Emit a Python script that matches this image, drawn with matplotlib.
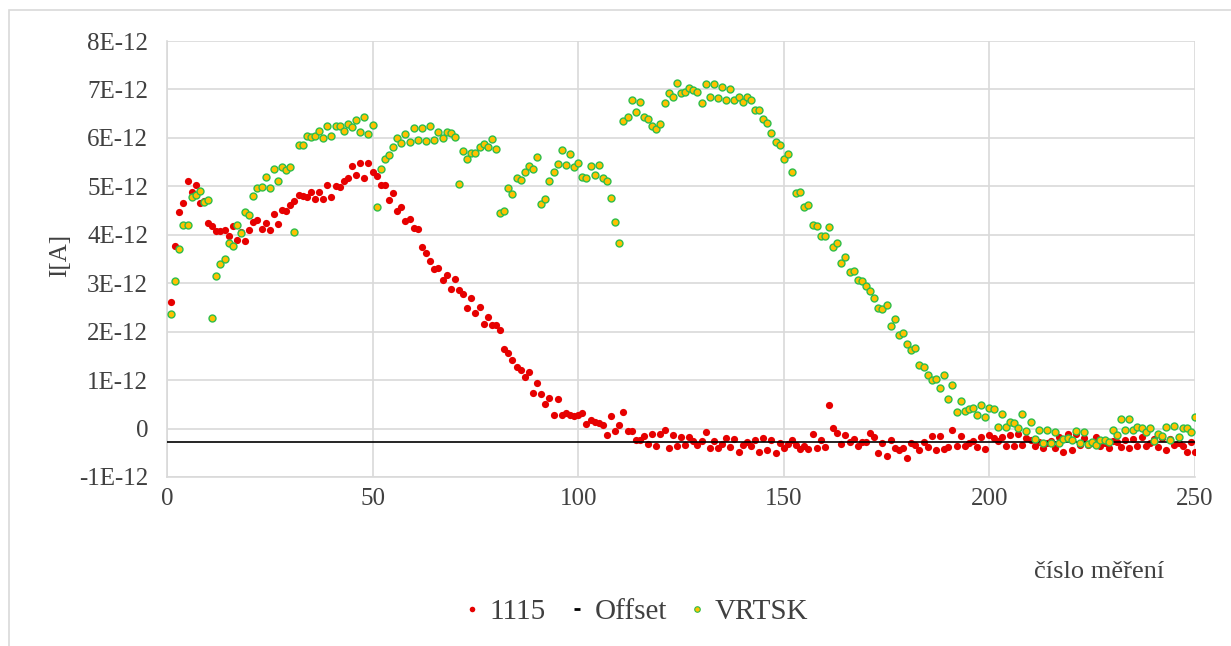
import numpy as np
import matplotlib.pyplot as plt
from matplotlib.lines import Line2D
from matplotlib.patches import Rectangle

plt.rcParams['font.family'] = ['Liberation Serif', 'DejaVu Serif']

# measured current, in units of 1E-12 A, measurement number 1..250
i_1115 = [
    2.62, 3.76, 4.48, 4.65, 5.12, 4.88, 5.02, 4.66, 4.69, 4.24,
    4.19, 4.08, 4.08, 4.10, 3.97, 4.19, 3.90, 4.05, 3.88, 4.09,
    4.26, 4.30, 4.12, 4.24, 4.10, 4.42, 4.23, 4.52, 4.50, 4.61,
    4.70, 4.83, 4.81, 4.77, 4.88, 4.73, 4.88, 4.73, 5.02, 4.77,
    5.00, 4.98, 5.11, 5.18, 5.43, 5.24, 5.48, 5.18, 5.48, 5.29,
    5.21, 5.02, 5.02, 4.71, 4.86, 4.50, 4.57, 4.28, 4.32, 4.13,
    4.12, 3.74, 3.63, 3.45, 3.30, 3.31, 3.07, 3.17, 2.88, 3.08,
    2.86, 2.77, 2.49, 2.70, 2.39, 2.51, 2.16, 2.30, 2.14, 2.14,
    2.03, 1.65, 1.56, 1.42, 1.28, 1.20, 1.07, 1.17, 0.73, 0.94,
    0.72, 0.50, 0.63, 0.28, 0.61, 0.28, 0.32, 0.28, 0.25, 0.28,
    0.33, 0.09, 0.17, 0.13, 0.12, 0.08, -0.14, 0.25, -0.05, 0.08,
    0.35, -0.05, -0.05, -0.24, -0.23, -0.15, -0.32, -0.12, -0.35, -0.11,
    -0.03, -0.40, -0.14, -0.37, -0.17, -0.33, -0.18, -0.26, -0.33, -0.26,
    -0.08, -0.40, -0.25, -0.40, -0.31, -0.19, -0.39, -0.22, -0.49, -0.33,
    -0.27, -0.36, -0.23, -0.48, -0.19, -0.45, -0.24, -0.50, -0.30, -0.41,
    -0.31, -0.24, -0.33, -0.43, -0.36, -0.43, -0.11, -0.40, -0.23, -0.39,
    0.48, 0.01, -0.09, -0.32, -0.13, -0.28, -0.21, -0.35, -0.28, -0.27,
    -0.09, -0.17, -0.50, -0.30, -0.56, -0.23, -0.41, -0.45, -0.40, -0.60,
    -0.30, -0.34, -0.45, -0.28, -0.39, -0.16, -0.44, -0.16, -0.42, -0.38,
    -0.03, -0.35, -0.16, -0.37, -0.29, -0.25, -0.39, -0.17, -0.42, -0.14,
    -0.19, -0.25, -0.17, -0.37, -0.13, -0.37, -0.12, -0.33, -0.20, -0.23,
    -0.37, -0.27, -0.41, -0.30, -0.25, -0.40, -0.17, -0.48, -0.12, -0.45,
    -0.12, -0.33, -0.19, -0.34, -0.30, -0.18, -0.37, -0.30, -0.40, -0.25,
    -0.28, -0.39, -0.23, -0.41, -0.21, -0.37, -0.18, -0.37, -0.30, -0.21,
    -0.39, -0.19, -0.45, -0.22, -0.34, -0.30, -0.36, -0.48, -0.27, -0.49,
]

i_vrtsk = [
    2.36, 3.04, 3.70, 4.21, 4.21, 4.79, 4.83, 4.90, 4.68, 4.72,
    2.29, 3.15, 3.40, 3.49, 3.84, 3.77, 4.21, 4.04, 4.48, 4.41,
    4.80, 4.97, 4.99, 5.19, 4.97, 5.35, 5.11, 5.39, 5.34, 5.39,
    4.06, 5.85, 5.86, 6.03, 6.01, 6.04, 6.14, 5.99, 6.25, 6.03,
    6.25, 6.24, 6.14, 6.29, 6.23, 6.36, 6.12, 6.43, 6.07, 6.26,
    4.57, 5.35, 5.57, 5.65, 5.82, 6.00, 5.90, 6.09, 5.91, 6.20,
    5.95, 6.20, 5.93, 6.25, 5.96, 6.13, 5.99, 6.12, 6.10, 6.01,
    5.05, 5.73, 5.57, 5.68, 5.68, 5.81, 5.87, 5.81, 5.98, 5.77,
    4.44, 4.50, 4.97, 4.84, 5.17, 5.13, 5.30, 5.41, 5.36, 5.61,
    4.64, 4.73, 5.10, 5.30, 5.47, 5.74, 5.45, 5.67, 5.39, 5.49,
    5.19, 5.17, 5.41, 5.24, 5.45, 5.18, 5.10, 4.75, 4.26, 3.84,
    6.34, 6.43, 6.78, 6.54, 6.75, 6.44, 6.39, 6.24, 6.18, 6.29,
    6.71, 6.92, 6.84, 7.13, 6.92, 6.95, 7.02, 6.99, 6.95, 6.73,
    7.11, 6.85, 7.11, 6.83, 7.05, 6.78, 7.00, 6.78, 6.84, 6.74,
    6.85, 6.79, 6.57, 6.58, 6.38, 6.31, 6.11, 5.92, 5.86, 5.57,
    5.66, 5.30, 4.87, 4.88, 4.58, 4.61, 4.21, 4.18, 3.97, 3.97,
    4.17, 3.75, 3.84, 3.42, 3.55, 3.24, 3.26, 3.07, 3.05, 2.94,
    2.83, 2.70, 2.48, 2.46, 2.56, 2.11, 2.26, 1.93, 1.98, 1.74,
    1.62, 1.67, 1.31, 1.27, 1.10, 1.00, 1.03, 0.83, 1.10, 0.61,
    0.89, 0.34, 0.56, 0.36, 0.41, 0.43, 0.27, 0.48, 0.23, 0.42,
    0.41, 0.03, 0.30, 0.03, 0.13, 0.12, 0.02, 0.30, -0.06, 0.14,
    -0.21, -0.03, -0.30, -0.03, -0.30, -0.08, -0.29, -0.22, -0.19, -0.24,
    -0.06, -0.30, -0.08, -0.32, -0.28, -0.34, -0.23, -0.23, -0.28, -0.03,
    -0.14, 0.19, -0.02, 0.19, -0.02, 0.03, 0.02, -0.08, 0.01, -0.25,
    -0.11, -0.16, 0.04, -0.23, 0.05, -0.17, 0.01, 0.01, -0.08, 0.24,
]

offset_level = -0.27
offset_range = [0, 250]

scale = 1e-12
n = np.arange(1, len(i_1115) + 1)
y_1115 = np.array(i_1115) * scale
y_vrtsk = np.array(i_vrtsk) * scale

red = '#e60000'
fill = '#ffc000'
edge = '#2dbe4a'
grid = '#d9d9d9'
txt = '#404040'

fig = plt.figure(figsize=(12.31, 6.46), dpi=100)
# chart area border
fig.patches.append(Rectangle((9 / 1231, -0.1), 1.2, 1 - 10 / 646 + 0.1,
                             transform=fig.transFigure, fill=False,
                             edgecolor=grid, lw=1.2))

ax = fig.add_axes([167 / 1231, 1 - 477 / 646, (1195 - 167) / 1231, (477 - 41) / 646])

ax.plot(n, y_1115, 'o', ms=5.2, color=red, mec=red, mew=0, zorder=3)
ax.plot(offset_range, [offset_level * scale] * 2, '-', color='black', lw=1.2, zorder=4)
ax.plot(n, y_vrtsk, 'o', ms=5.0, mfc=fill, mec=edge, mew=1.0, zorder=5)

ax.set_xlim(0, 250)
ax.set_ylim(-1e-12, 8e-12)
ax.set_xticks(np.arange(0, 251, 50))
ax.set_yticks(np.arange(-1, 9) * scale)
ax.yaxis.set_major_formatter(
    plt.FuncFormatter(lambda v, p: '0' if abs(v) < 1e-15 else f'{round(v / scale)}E-12'))

ax.grid(True, color=grid, lw=1.2)
ax.set_axisbelow(True)
for s in ax.spines.values():
    s.set_visible(False)
for side in ('left', 'bottom'):
    ax.spines[side].set_visible(True)
    ax.spines[side].set_color(grid)
    ax.spines[side].set_linewidth(1.2)
ax.tick_params(length=0, labelsize=18, colors=txt)
ax.tick_params(axis='y', pad=13.5)
ax.tick_params(axis='x', pad=8)

fig.text(60 / 1231, 1 - 255 / 646, 'I[A]', rotation=90, ha='center', va='center',
         fontsize=18, color=txt)
fig.text(1099 / 1231, 1 - 572 / 646, 'číslo měření', ha='center', va='center',
         fontsize=19, color=txt)

handles = [
    Line2D([], [], ls='none', marker='o', ms=4, color=red, mew=0),
    Line2D([], [], ls='none', marker='_', ms=5, color='black', mew=2),
    Line2D([], [], ls='none', marker='o', ms=4, mfc=fill, mec=edge, mew=0.8),
]
fig.legend(handles, ['1115', 'Offset', 'VRTSK'], loc='center',
           bbox_to_anchor=(636 / 1231, 1 - 612 / 646), ncol=3, frameon=False,
           fontsize=21, handlelength=0.6, handletextpad=0.3, columnspacing=0.75,
           labelcolor=txt)

fig.savefig('out.png', dpi=100)
